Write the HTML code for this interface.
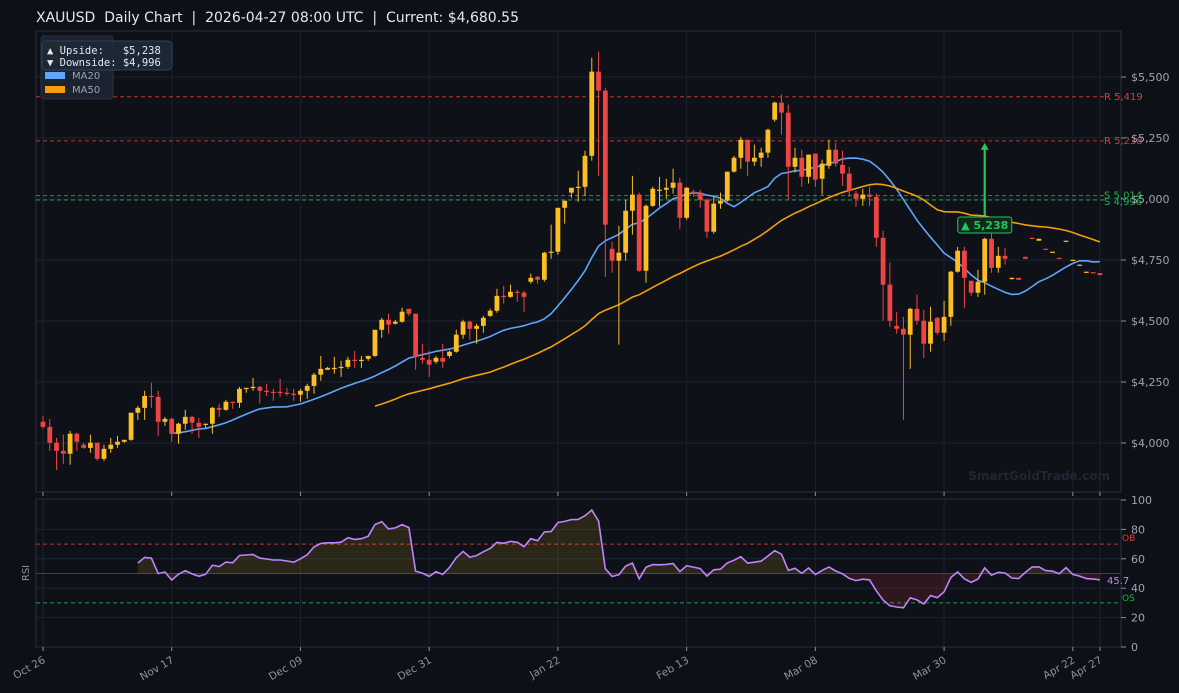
<!DOCTYPE html>
<html><head><meta charset="utf-8"><style>
html,body{margin:0;padding:0;background:#0d1017;}
svg{display:block;font-family:"DejaVu Sans","Liberation Sans",sans-serif;}
</style></head><body>
<svg id="chart" width="1179" height="693" viewBox="0 0 1179 693" xmlns="http://www.w3.org/2000/svg">
<rect x="0" y="0" width="1179" height="693" fill="#0d1017"/>
<text x="36" y="22" fill="#e5e7eb" font-size="14" xml:space="preserve" style="white-space:pre">XAUUSD  Daily Chart  |  2026-04-27 08:00 UTC  |  Current: $4,680.55</text>
<rect x="36" y="31" width="1085" height="461" fill="#0e1118" stroke="#263041" stroke-width="1"/>
<rect x="36" y="499" width="1085" height="148" fill="#0e1118" stroke="#263041" stroke-width="1"/>
<g id="grid"></g><g id="levels"></g><g id="mas"></g><g id="candles"></g><g id="rsi"></g><g id="axes"></g>
<text x="1110" y="480" text-anchor="end" fill="#1f2734" font-size="12" font-weight="bold">SmartGoldTrade.com</text>
<g>
<rect x="41" y="36" width="72" height="63" rx="3" fill="#1c2330" stroke="#2a3342"/>
<rect x="45" y="43" width="20" height="7" fill="#6b5a20"/>
<rect x="45" y="57" width="20" height="7" fill="#6b2a2a"/>
<rect x="45" y="72" width="20" height="7" fill="#60a5fa"/>
<text x="72" y="79" fill="#9ca3af" font-size="10">MA20</text>
<rect x="45" y="86" width="20" height="7" fill="#f59e0b"/>
<text x="72" y="93" fill="#9ca3af" font-size="10">MA50</text>
</g>
<g>
<rect x="42" y="41" width="130" height="29" rx="4" fill="#1e2938" fill-opacity="0.95" stroke="#334155"/>
<text x="47" y="54" fill="#e5e7eb" font-size="10.5" font-family="DejaVu Sans Mono,Liberation Mono,monospace" xml:space="preserve" style="white-space:pre">▲ Upside:   $5,238</text>
<text x="47" y="66" fill="#e5e7eb" font-size="10.5" font-family="DejaVu Sans Mono,Liberation Mono,monospace" xml:space="preserve" style="white-space:pre">▼ Downside: $4,996</text>
</g>
</svg>
<script>
const opens=[4087,4066,4001,3968,3956,4038,3993,3980,4001,3935,3976,3993,4005,4013,4124,4144,4193,4189,4087,4099,4038,4079,4107,4083,4075,4079,4144,4136,4169,4165,4222,4226,4230,4214,4210,4210,4206,4202,4198,4214,4234,4280,4300,4304,4308,4312,4341,4337,4345,4357,4464,4505,4489,4497,4550,4530,4349,4341,4333,4349,4357,4374,4444,4497,4468,4480,4521,4542,4603,4599,4620,4616,4661,4681,4669,4780,4784,4964,5026,5046,5050,5177,5522,5444,4796,4747,4780,4952,5018,4706,4972,5038,5038,5046,5067,4923,5030,5026,4997,4866,4981,4993,5112,5169,5243,5153,5169,5190,5325,5395,5354,5132,5169,5091,5186,5083,5136,5202,5140,5104,5022,5001,5018,5009,4841,4649,4480,4468,4444,4550,4501,4407,4513,4452,4517,4702,4788,4665,4616,4661,4837,4718,4767,4673,4677,4763,4841,4829,4796,4780,4759,4825,4747,4726,4698,4700,4696];
const closes=[4066,4001,3968,3956,4038,4005,3980,4001,3935,3976,3993,4005,4013,4124,4144,4193,4189,4087,4099,4038,4079,4107,4083,4066,4079,4144,4136,4169,4165,4222,4226,4230,4214,4210,4206,4206,4202,4198,4214,4234,4280,4304,4308,4308,4312,4341,4337,4341,4357,4464,4505,4485,4497,4538,4530,4353,4341,4321,4349,4333,4374,4444,4497,4468,4480,4513,4542,4603,4599,4620,4616,4599,4677,4669,4780,4784,4964,4993,5046,5050,5177,5522,5444,4895,4747,4780,4952,5018,4706,4972,5042,5038,5046,5067,4923,5046,5022,4997,4866,4981,4993,5112,5169,5243,5153,5169,5190,5284,5395,5354,5132,5169,5091,5182,5079,5145,5202,5145,5104,5034,5001,5018,5009,4841,4649,4501,4468,4444,4550,4501,4407,4497,4452,4517,4702,4788,4677,4616,4661,4837,4718,4767,4755,4677,4669,4755,4837,4837,4792,4784,4755,4829,4751,4731,4702,4696,4688];
const highs=[4111,4099,4021,4034,4050,4042,4001,4034,4001,3993,4021,4029,4013,4124,4152,4214,4247,4214,4107,4103,4083,4136,4111,4103,4079,4148,4161,4177,4169,4230,4226,4267,4234,4243,4222,4263,4226,4222,4222,4243,4288,4357,4312,4353,4337,4353,4378,4357,4357,4464,4513,4530,4505,4554,4550,4530,4407,4378,4357,4407,4378,4464,4505,4501,4489,4521,4550,4632,4644,4649,4628,4624,4694,4685,4784,4895,4964,4993,5046,5116,5198,5579,5604,5456,4825,4890,4997,5095,5026,4977,5050,5091,5083,5124,5087,5050,5038,5038,5001,5013,5026,5112,5177,5255,5243,5223,5210,5288,5399,5428,5387,5210,5202,5182,5186,5161,5243,5231,5198,5132,5034,5042,5050,5022,4870,4739,4538,4517,4554,4608,4546,4558,4517,4583,4706,4804,4804,4665,4710,4841,4858,4804,4800,4677,4677,4763,4841,4837,4796,4784,4759,4829,4751,4731,4702,4700,4696];
const lows=[4058,3968,3890,3915,3911,3968,3976,3960,3927,3927,3960,3980,4001,4009,4095,4095,4144,4029,4070,4005,3997,4054,4038,4021,4062,4038,4107,4132,4140,4144,4206,4214,4161,4193,4173,4189,4193,4173,4169,4181,4202,4255,4300,4284,4271,4304,4308,4308,4337,4353,4431,4448,4485,4493,4521,4300,4325,4271,4325,4308,4349,4370,4427,4423,4407,4452,4517,4534,4571,4595,4579,4538,4653,4653,4661,4755,4772,4899,5005,4989,5013,5157,5095,4681,4698,4403,4747,4854,4702,4657,4968,4968,5001,5022,4878,4915,5009,4964,4841,4858,4960,4989,5108,5124,5095,5136,5132,5169,5317,5264,4997,5108,5050,5063,5050,5018,5124,5132,5054,5009,4968,4972,4972,4804,4501,4476,4448,4095,4304,4485,4349,4374,4444,4419,4480,4698,4554,4603,4599,4608,4698,4698,4731,4669,4669,4755,4837,4829,4792,4780,4755,4825,4747,4726,4698,4696,4688];
const priceTicks=[4000,4250,4500,4750,5000,5250,5500];
const priceTickLabels=["$4,000","$4,250","$4,500","$4,750","$5,000","$5,250","$5,500"];
const dateTickIdx=[0,19,38,57,76,95,114,133,152,156];
const dateTickLabels=["Oct 26","Nov 17","Dec 09","Dec 31","Jan 22","Feb 13","Mar 08","Mar 30","Apr 22","Apr 27"];
const levelValues=[5419,5238,5014,4996];
const levelLabels=["R 5,419","R 5,238","S 5,014","S 4,996"];
const levelKinds=["R","R","S","S"];
const rsiTicks=[0,20,40,60,80,100];
const targetIdx=139;
const targetPrice=5238;

const NS="http://www.w3.org/2000/svg";
function X(i){return 43+i*6.775;}
function Y(p){return 443-(p-4000)*0.244;}
function RY(v){return 647-v*1.47;}
function mk(tag,attrs,parent){const e=document.createElementNS(NS,tag);for(const k in attrs)e.setAttribute(k,attrs[k]);parent.appendChild(e);return e;}
const g=id=>document.getElementById(id);

priceTicks.forEach((p,k)=>{
  const l=mk('line',{x1:36,x2:1121,y1:Y(p),y2:Y(p),stroke:'#1c2230','stroke-width':1},g('grid'));
  
  
  const t=mk('line',{x1:1121,x2:1126,y1:Y(p),y2:Y(p),stroke:'#8b93a1'},g('axes'));
  
  
  const tx=mk('text',{x:1131,y:Y(p)+4,fill:'#9ca3af','font-size':11},g('axes'));
  
  
  tx.textContent=priceTickLabels[k];
});
dateTickIdx.forEach((i,k)=>{
  const x=X(i);
  [[31,492],[499,647]].forEach(r=>{
    const l=mk('line',{x1:x,x2:x,y1:r[0],y2:r[1],stroke:'#1c2230'},g('grid'));
    
    
  });
  [[492,496],[647,651]].forEach(r=>{
    const t=mk('line',{x1:x,x2:x,y1:r[0],y2:r[1],stroke:'#8b93a1'},g('axes'));
    
    
  });
  const tx=mk('text',{x:x+3,y:662,fill:'#8b93a1','font-size':10.5,'text-anchor':'end',transform:`rotate(-30 ${x+3} 662)`},g('axes'));
  
  
  tx.textContent=dateTickLabels[k];
});

levelValues.forEach((v,k)=>{
  const c=levelKinds[k]==='R'?'#dc3c3c':'#22b04a';
  const l=mk('line',{x1:36,x2:1104,y1:Y(v),y2:Y(v),stroke:c,'stroke-width':1,'stroke-dasharray':'4,3','stroke-opacity':0.85},g('levels'));
  
  
  const t=mk('text',{x:1104,y:Y(v)+(k===3?5:3),fill:c,'font-size':10},g('levels'));
  
  
  t.textContent=levelLabels[k];
});

function sma(n){return closes.map((c,i)=>{if(i<n-1)return null;let s=0;for(let j=i-n+1;j<=i;j++)s+=closes[j];return s/n;});}
[[20,'#60a5fa','ma20-line'],[50,'#f59e0b','ma50-line']].forEach(([n,col,name])=>{
  const m=sma(n);let d='';
  m.forEach((v,i)=>{if(v==null)return;d+=(d?'L':'M')+X(i).toFixed(1)+','+Y(v).toFixed(1);});
  const p=mk('path',{d:d,fill:'none',stroke:col,'stroke-width':1.6},g('mas'));
  
  
});

opens.forEach((o,i)=>{
  const c=closes[i],up=c>=o,col=up?'#fbbf24':'#ef4444',x=X(i);
  const w=mk('line',{x1:x,x2:x,y1:Y(highs[i]),y2:Y(lows[i]),stroke:col,'stroke-width':1},g('candles'));
  
  
  const top=Y(Math.max(o,c)),h=Math.max(1.2,Math.abs(Y(o)-Y(c)));
  const b=mk('rect',{x:x-2.4,y:top,width:4.8,height:h,fill:col},g('candles'));
  
  
});

{
  const x=X(targetIdx),gr='#22c55e';
  const a=mk('line',{x1:x,x2:x,y1:216,y2:Y(targetPrice)+8,stroke:gr,'stroke-width':2.2},g('levels'));
  
  
  const hd=mk('path',{d:`M${x-4},${Y(targetPrice)+9}L${x},${Y(targetPrice)+2}L${x+4},${Y(targetPrice)+9}Z`,fill:gr},g('levels'));
  
  
  const bx=mk('rect',{x:x-27,y:217,width:54,height:16,rx:2.5,fill:'#0f2a1a',stroke:gr,'stroke-width':1},g('candles'));
  
  
  const t=mk('text',{x:x,y:229,fill:gr,'font-size':11,'font-weight':'bold','text-anchor':'middle'},g('candles'));
  
  
  t.textContent='▲ 5,238';
}

function rsiCalc(n){
  const out=closes.map(()=>null);let ag=0,al=0;
  for(let i=1;i<=n;i++){const d=closes[i]-closes[i-1];if(d>0)ag+=d;else al-=d;}
  ag/=n;al/=n;out[n]=100-100/(1+ag/(al||1e-9));
  for(let i=n+1;i<closes.length;i++){const d=closes[i]-closes[i-1];ag=(ag*(n-1)+Math.max(d,0))/n;al=(al*(n-1)+Math.max(-d,0))/n;out[i]=100-100/(1+ag/(al||1e-9));}
  return out;
}
const rv=rsiCalc(14);
[20,40,60,80].forEach(v=>{
  const l=mk('line',{x1:36,x2:1121,y1:RY(v),y2:RY(v),stroke:'#1c2230'},g('rsi'));
  
  
});
{
  const l=mk('line',{x1:36,x2:1121,y1:RY(50),y2:RY(50),stroke:'#3a4150'},g('rsi'));
  
  
  const ob=mk('line',{x1:36,x2:1121,y1:RY(70),y2:RY(70),stroke:'#b33b3b','stroke-dasharray':'4,3'},g('rsi'));
  
  
  const os=mk('line',{x1:36,x2:1121,y1:RY(30),y2:RY(30),stroke:'#1f9a45','stroke-dasharray':'4,3'},g('rsi'));
  
  
}
{
  let up='',dn='',line='',first=null,last=null;
  rv.forEach((v,i)=>{if(v==null)return;if(first==null)first=i;last=i;
    line+=(line?'L':'M')+X(i).toFixed(1)+','+RY(v).toFixed(1);
    up+=(up?'L':'M')+X(i).toFixed(1)+','+RY(Math.max(v,50)).toFixed(1);
    dn+=(dn?'L':'M')+X(i).toFixed(1)+','+RY(Math.min(v,50)).toFixed(1);});
  const close=`L${X(last).toFixed(1)},${RY(50)}L${X(first).toFixed(1)},${RY(50)}Z`;
  const fu=mk('path',{d:up+close,fill:'#facc15','fill-opacity':0.12},g('rsi'));
  
  
  const fd=mk('path',{d:dn+close,fill:'#ef4444','fill-opacity':0.14},g('rsi'));
  
  
  const pl=mk('path',{d:line,fill:'none',stroke:'#c084fc','stroke-width':1.6},g('rsi'));
  
  
  const lt=mk('text',{x:1107,y:RY(rv[last])+4,fill:'#c084fc','font-size':10},g('rsi'));
  
  
  lt.textContent=rv[last].toFixed(1);
}
rsiTicks.forEach(v=>{
  const t=mk('line',{x1:1121,x2:1126,y1:RY(v),y2:RY(v),stroke:'#8b93a1'},g('axes'));
  
  
  const tx=mk('text',{x:1131,y:RY(v)+4,fill:'#9ca3af','font-size':11},g('axes'));
  
  
  tx.textContent=String(v);
});
{
  const ob=mk('text',{x:1122,y:RY(70)-3,fill:'#dc3c3c','font-size':9},g('axes'));
  
  
  ob.textContent='OB';
  const os=mk('text',{x:1122,y:RY(30)-2,fill:'#22b04a','font-size':9},g('axes'));
  
  
  os.textContent='OS';
  const yl=mk('text',{x:29,y:573,fill:'#8b93a1','font-size':10,'text-anchor':'middle',transform:'rotate(-90 29 573)'},g('axes'));
  
  
  yl.textContent='RSI';
}
</script>
</body></html>
